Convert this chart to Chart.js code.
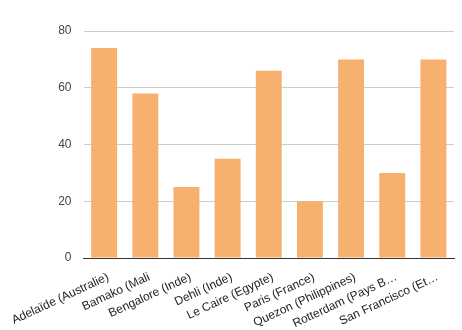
<!DOCTYPE html>
<html>
<head>
<meta charset="utf-8">
<script src="https://cdn.jsdelivr.net/npm/chart.js@4/dist/chart.umd.min.js"></script>
<style>
  html, body { margin: 0; padding: 0; background: #fff; }
  #wrap { width: 462px; height: 330px; }
</style>
</head>
<body>
<div id="wrap"><canvas id="bar-chart"></canvas></div>
<script>
// Villes et valeurs
var villes = ['Adelaïde (Australie)', 'Bamako (Mali', 'Bengalore (Inde)', 'Dehli (Inde)', 'Le Caire (Egypte)', 'Paris (France)', 'Quezon (Philippines)', 'Rotterdam (Pays B…', 'San Francisco (Et…'];
var valeurs = [74, 58, 25, 35, 66, 20, 70, 30, 70];
var ticksY = [0, 20, 40, 60, 80];

Chart.defaults.font.family = '"Liberation Sans", Arial, sans-serif';

var ctx = document.getElementById('bar-chart').getContext('2d');
var barChart = new Chart(ctx, {
  type: 'bar',
  data: {
    labels: villes,
    datasets: [{
      data: valeurs,
      backgroundColor: '#f5b16d',
      categoryPercentage: 1,
      barPercentage: 0.63
    }]
  },
  options: {
    responsive: true,
    maintainAspectRatio: false,
    animation: false,
    layout: { padding: { top: 31, right: 8, left: 0, bottom: 0 } },
    plugins: {
      legend: { display: false },
      tooltip: { enabled: false }
    },
    scales: {
      x: {
        grid: { display: false },
        border: { color: '#333', width: 1 },
        afterFit: function (axis) { axis.height = 72; },
        ticks: {
          color: '#222',
          font: { size: 12 },
          minRotation: 25,
          maxRotation: 25,
          autoSkip: false,
          labelOffset: 4,
          padding: 4
        }
      },
      y: {
        min: 0,
        max: 80,
        afterBuildTicks: function (axis) {
          axis.ticks = ticksY.map(function (v) { return { value: v }; });
        },
        afterFit: function (axis) { axis.width = 83; },
        grid: { color: '#cccccc', drawTicks: false },
        border: { display: false },
        ticks: {
          color: '#444',
          font: { size: 12 },
          padding: 12
        }
      }
    }
  }
});
</script>
</body>
</html>
